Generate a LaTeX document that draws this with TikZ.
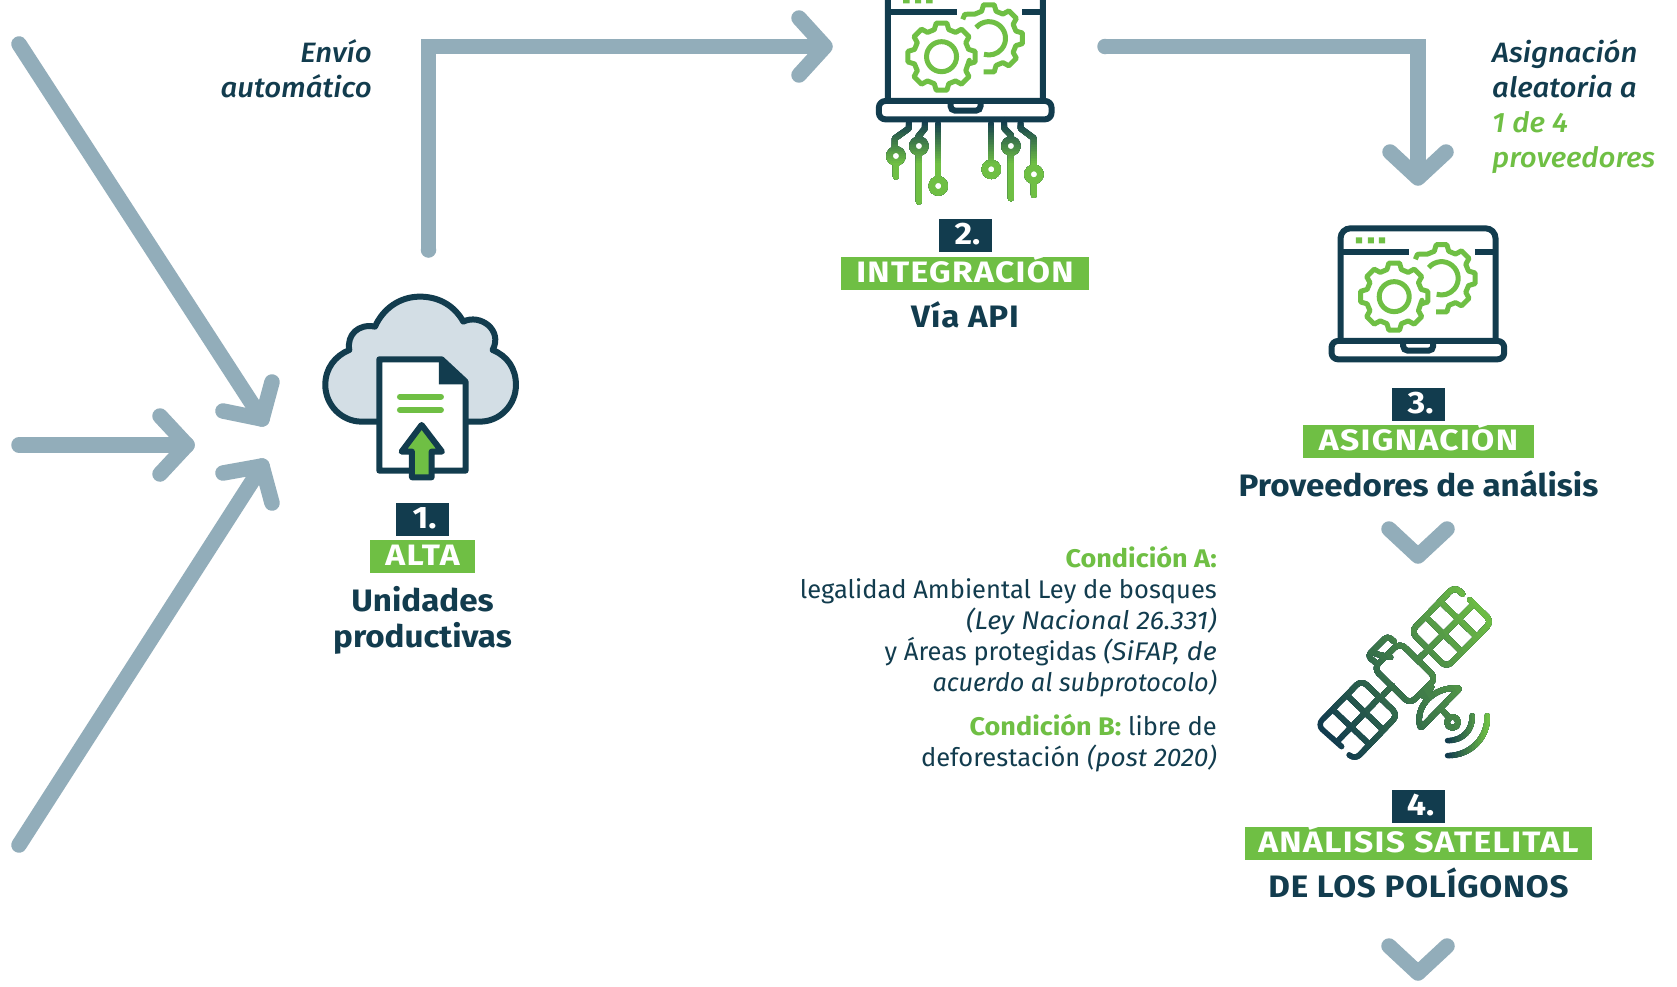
\documentclass[tikz,border=0pt]{standalone}
\usepackage{fontspec}
\setmainfont{Fira Sans}
\newfontfamily\notefont[ItalicFont={Fira Sans Medium Italic},FakeStretch=1.05]{Fira Sans Medium}
\usetikzlibrary{calc}
\definecolor{ink}{HTML}{123C4E}
\definecolor{leaf}{HTML}{6FBF44}
\definecolor{flow}{HTML}{92ADBA}
\definecolor{cloudc}{HTML}{D3DEE5}
\tikzset{
  flowline/.style={draw=flow,line width=15.5pt,line cap=round,line join=miter},
  flowhead/.style={draw=flow,line width=15.5pt,line cap=round,line join=round},
  badge/.style={fill=ink,text=white,minimum width=53pt,minimum height=33pt,inner sep=0pt,text height=18.5pt,text depth=0pt,font=\fontsize{31}{33}\selectfont\bfseries\addfontfeature{FakeStretch=1.1},execute at begin node={\hspace*{4pt}}},
  bar/.style={fill=leaf,text=white,minimum height=33pt,inner sep=0pt,text height=17.5pt,text depth=0pt,font=\fontsize{29.5}{30}\selectfont\bfseries\addfontfeature{FakeStretch=1.14,LetterSpace=4.5}},
  head/.style={text=ink,anchor=base,inner sep=0pt,font=\fontsize{31}{33}\selectfont\bfseries\addfontfeature{FakeStretch=1.07}},
  headsp/.style={head,font=\fontsize{31}{33}\selectfont\bfseries\addfontfeature{FakeStretch=1.07,LetterSpace=2.5}},
  note/.style={text=ink,inner sep=0pt,font=\fontsize{28}{30}\selectfont\notefont\itshape},
  body/.style={text=ink,anchor=base east,inner sep=0pt,font=\fontsize{25.5}{31}\selectfont},
  ic/.style={line width=6pt,line cap=round,line join=round},
  gearl/.style={draw=leaf,line width=5pt,line cap=butt,line join=round},
}
\newcommand{\lbl}[1]{\textcolor{leaf}{\bfseries\addfontfeature{FakeStretch=1.06}#1}}
\newcommand{\itl}[2][1.03]{{\itshape\addfontfeature{FakeStretch=#1}#2}}
% A is the dark end, B the green end; #6 holds the strokes, painted in gradc
\newcommand{\GradPaint}[6]{%
  \pgfmathsetmacro{\gdx}{#3-#1}\pgfmathsetmacro{\gdy}{#4-#2}
  \pgfmathsetmacro{\gl}{veclen(\gdx,\gdy)}
  \pgfmathsetmacro{\ux}{\gdx/\gl}\pgfmathsetmacro{\uy}{\gdy/\gl}
  \foreach \gi in {0,...,#5}{
    \pgfmathsetmacro{\gt}{\gi/#5}
    \pgfmathsetmacro{\px}{#1+\gt*\gdx}\pgfmathsetmacro{\py}{#2+\gt*\gdy}
    \pgfmathsetmacro{\gp}{100*\gt}
    \colorlet{gradc}{leaf!\gp!ink}
    \begin{scope}
      \ifnum\gi>0
      \clip ({\px-1500*\uy},{\py+1500*\ux}) -- ({\px+1500*\uy},{\py-1500*\ux})
         -- ({\px+1500*\uy+1500*\ux},{\py-1500*\ux+1500*\uy}) -- ({\px-1500*\uy+1500*\ux},{\py+1500*\ux+1500*\uy}) -- cycle;
      \fi
      #6
    \end{scope}
  }%
}
\newcommand{\LaptopIcon}[2]{%
\begin{scope}[x=.3333pt,y=-.3333pt,shift={(#1*3,#2*3)}]
  \draw[ink,line width=6pt,rounded corners=10pt] (122,415) -- (122,85) -- (587,85) -- (587,415);
  \draw[ink,line width=6pt] (122,157) -- (328,157) (525,157) -- (587,157);
  \fill[leaf] (168,112) rectangle (187,130) (204,112) rectangle (222,130) (237,112) rectangle (256,130);
  \draw[ink,line width=6pt,line join=round,rounded corners=6.5pt] (95,423) -- (95,478) -- (613,478) -- (613,423) -- cycle;
  \draw[ink,line width=6pt,rounded corners=4.5pt] (310,423) -- (310,452) -- (400,452) -- (400,423);
  \draw[gearl,shift={(283,290)}] (22.5-15:84)
     \foreach \t in {45,90,...,360}{ -- (\t-15:84) -- (\t-9:102) -- (\t+9:102) -- (\t+15:84)} -- cycle;
  \draw[gearl] (283,290) circle[radius=45];
  \draw[gearl,shift={(425,235)}] (216:97) -- (225:102) -- (240:84)
     \foreach \t in {270,315,360,405}{ -- (\t-15:84) -- (\t-9:102) -- (\t+9:102) -- (\t+15:84)}
     -- (450-15:84) -- (450-9:102) -- (450+9:102);
  \draw[gearl] (425,235) ++(220:50) arc[start angle=220,end angle=467,radius=50];
\end{scope}}
\begin{document}
\begin{tikzpicture}[x=1pt,y=-1pt]
\useasboundingbox (0,0) rectangle (1677,986);
\fill[white] (0,0) rectangle (1677,986);

% ---------- incoming arrows
\coordinate (i1s) at (19,44);  \coordinate (i1t) at (262,419); \coordinate (i1a) at (272,382); \coordinate (i1b) at (223,411);
\coordinate (i2s) at (19,445); \coordinate (i2t) at (187,445); \coordinate (i2a) at (160,416); \coordinate (i2b) at (160,474);
\coordinate (i3s) at (19,845); \coordinate (i3t) at (262,466); \coordinate (i3a) at (223,473); \coordinate (i3b) at (272,503);
\draw[flowline] (i1s) -- (i1t); \draw[flowhead] (i1a) -- (i1t) -- (i1b);
\draw[flowline] (i2s) -- (i2t); \draw[flowhead] (i2a) -- (i2t) -- (i2b);
\draw[flowline] (i3s) -- (i3t); \draw[flowhead] (i3a) -- (i3t) -- (i3b);

% ---------- L connectors
\coordinate (l1s) at (428.5,250); \coordinate (l1c) at (428.5,46.5); \coordinate (l1t) at (825,46.5); \coordinate (l1a) at (799,18); \coordinate (l1b) at (799,75);
\draw[flowline,line cap=butt] (l1s) -- (l1c) -- (l1t);
\fill[flow] (l1s) circle[radius=7.75];
\draw[flowhead] (l1a) -- (l1t) -- (l1b);
\coordinate (l2s) at (1105,46.5); \coordinate (l2c) at (1418,46.5); \coordinate (l2t) at (1418,178); \coordinate (l2a) at (1390,152); \coordinate (l2b) at (1446,152);
\draw[flowline,line cap=butt] (l2s) -- (l2c) -- (l2t);
\fill[flow] (l2s) circle[radius=7.75];
\draw[flowhead] (l2a) -- (l2t) -- (l2b);

% ---------- chevrons
\coordinate (c1a) at (1389,529); \coordinate (c1t) at (1418,556); \coordinate (c1b) at (1447,529);
\draw[flowhead] (c1a) -- (c1t) -- (c1b);
\coordinate (c2a) at (1389,946); \coordinate (c2t) at (1418,973); \coordinate (c2b) at (1447,946);
\draw[flowhead] (c2a) -- (c2t) -- (c2b);

% ---------- cloud icon
\begin{scope}[x=.3333pt,y=-.3333pt,shift={(900,840)}]
  \draw[ink,line width=6pt,fill=cloudc,line join=round]
    (235,425) -- (185,425) .. controls (125,425) and (76,375) .. (76,315)
    .. controls (76,265) and (105,228) .. (148,210)
    .. controls (140,165) and (175,130) .. (225,140)
    .. controls (250,85) and (300,50) .. (360,50)
    .. controls (420,50) and (465,80) .. (490,125)
    .. controls (540,100) and (610,150) .. (578,210)
    .. controls (622,228) and (648,265) .. (648,315)
    .. controls (648,375) and (600,425) .. (540,425) -- (500,425);
  \draw[ink,line width=6pt,fill=white,line join=round] (238,238) -- (425,238) -- (497,305) -- (497,572) -- (238,572) -- cycle;
  \fill[ink] (417,238) -- (430,238) -- (500,305) -- (500,313) -- (417,313) -- cycle;
  \draw[leaf,line width=6pt,line cap=round] (300,350) -- (423,350) (300,390) -- (423,390);
  \draw[ink,line width=6pt,fill=leaf,line join=round] (365,435) -- (426,515) -- (395,515) -- (395,592) -- (336,592) -- (336,515) -- (305,515) -- cycle;
\end{scope}

% ---------- laptops
\LaptopIcon{847.3}{-40}
\LaptopIcon{1300}{200}

% ---------- circuit traces
\begin{scope}[x=.3333pt,y=-.3333pt,shift={(2550,0)}]
  \GradPaint{0}{365}{0}{490}{24}{
    \draw[gradc,ic] (177,360) -- (177,385) -- (135,415) -- (135,450) (138,497) -- (138,530);
    \draw[gradc,ic] (225,360) -- (225,385) -- (205,410) -- (207,420) (207,468) -- (207,605);
    \draw[gradc,ic] (265,370) -- (265,530);
    \draw[gradc,ic] (424,370) -- (424,480);
    \draw[gradc,ic] (463,360) -- (463,385) -- (483,405) -- (483,410) (483,468) -- (483,595);
    \draw[gradc,ic] (512,360) -- (512,385) -- (552,415) -- (552,495) (552,552) -- (552,585);
    \foreach \cx/\cy in {138/468,207/438,265/558,424/508,483/438,552/523}
      \draw[gradc,line width=6.6pt,fill=white] (\cx,\cy) circle[radius=19];
  }
\end{scope}

% ---------- satellite
\begin{scope}[x=.3333pt,y=-.3333pt,shift={(3900,1710)}]
  \GradPaint{60}{470}{575}{150}{30}{
    \begin{scope}[gradc,line width=5.5pt,line cap=round,line join=round]
    \draw[rounded corners=7pt] (488,72) -- (465,49) -- (333,185) -- (440,293) -- (576,155) -- (510,90);
    \draw (387,237) -- (520,104) (378,141) -- (485,245) (422,96) -- (530,200);
    \draw (387,237) -- (355,268);
    \draw[rounded corners=7pt] (300,218) -- (409,325) -- (330,402) -- (221,295) -- cycle;
    \draw (277,347) -- (250,375);
    \draw[rounded corners=7pt] (125,530) -- (52,465) -- (185,330) -- (294,435) -- (165,570) -- (148,555);
    \draw (112,515) -- (237,385) (102,422) -- (207,522) (143,378) -- (248,478);
    \draw[rounded corners=4pt] (283,215) -- (263,198) -- (203,258) -- (232,282);
    \draw (228,252) -- (272,262);
    \draw[rounded corners=2pt] (480,355) .. controls (400,350) and (345,410) .. (362,475) -- cycle;
    \draw (395,352) -- (372,380);
    \draw (425,418) -- (442,437);
    \draw (458,457) circle[radius=17];
    \end{scope}
  }
  \GradPaint{440}{0}{560}{0}{14}{
    \draw[gradc,line width=5.5pt,line cap=round] (443,512) .. controls (490,512) and (518,480) .. (517,438);
    \draw[gradc,line width=5.5pt,line cap=round] (443,557) .. controls (515,557) and (565,500) .. (562,438);
  }
\end{scope}

% ---------- badges and titles
\node[badge] (n1) at (422.5,519.5) {1.};
\node[bar,minimum width=105pt] (t1) at (422.5,556.5) {ALTA};
\node[head] (s1a) at (422.5,611) {Unidades};
\node[head] (s1b) at (422.5,647) {productivas};

\node[badge] (n2) at (965.5,235.5) {2.};
\node[bar,minimum width=248pt] (t2) at (965,273.5) {INTEGRACIÓN};
\node[headsp] (s2) at (965,327) {Vía API};

\node[badge] (n3) at (1418.5,404.5) {3.};
\node[bar,minimum width=231pt] (t3) at (1418.5,441.5) {ASIGNACIÓN};
\node[head] (s3) at (1418.5,496) {Proveedores de análisis};

\node[badge] (n4) at (1418.5,806.5) {4.};
\node[bar,minimum width=347pt] (t4) at (1418.5,843.5) {ANÁLISIS SATELITAL};
\node[headsp] (s4) at (1418.5,897) {DE LOS POLÍGONOS};

% ---------- notes
\node[note,anchor=base east] (e1) at (372,62) {Envío};
\node[note,anchor=base east] (e2) at (372,97) {automático};
\node[note,anchor=base west] (a1) at (1492,62) {Asignación};
\node[note,anchor=base west] (a2) at (1492,97) {aleatoria a};
\node[note,anchor=base west,text=leaf] (a3) at (1492,132.5) {1 de 4};
\node[note,anchor=base west,text=leaf] (a4) at (1492,167.5) {proveedores};

% ---------- conditions
\node[body] (b1) at (1217,567.5) {\lbl{Condición A:}};
\node[body] (b2) at (1217,598.5) {legalidad Ambiental Ley de bosques};
\node[body] (b3) at (1217,629.5) {\itl[1.06]{(Ley Nacional 26.331)}};
\node[body] (b4) at (1217,660.5) {y Áreas protegidas \itl[1.06]{(SiFAP, de}};
\node[body] (b5) at (1217,691.5) {\itl[0.99]{acuerdo al subprotocolo)}};
\node[body] (b6) at (1217,735.5) {\lbl{Condición B:} libre de};
\node[body] (b7) at (1217,766.5) {deforestación \itl{(post 2020)}};
\end{tikzpicture}
\end{document}
